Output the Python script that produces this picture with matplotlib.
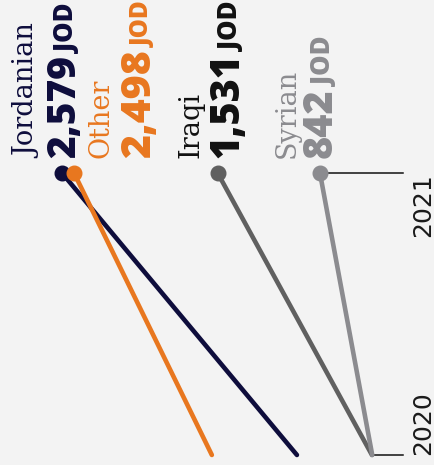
import matplotlib
matplotlib.use('Agg')
import matplotlib.pyplot as plt
from matplotlib import font_manager

# ---- data ----
groups = ['Jordanian', 'Other', 'Iraqi', 'Syrian']
values_2020 = [997, 1570, 492, 490]
values_2021 = [2579, 2498, 1531, 842]
value_labels = ['2,579', '2,498', '1,531', '842']
years = [2020, 2021]
year_labels = ['2020', '2021']
unit = 'JOD'

# ---- style / layout ----
line_colors = ['#0e0d3c', '#e8771f', '#606060', '#8b8b8f']
text_colors = ['#0e0d3c', '#e8771f', '#111111', '#8b8b8f']
name_dx = [-27, 34, -19, -25]      # px offset of name baseline from dot
value_dx = [13, 76, 21, 12]        # px offset of value baseline from dot
value_size = [28, 29.5, 28.5, 28.5]
unit_size = [18.5, 17.5, 18.5, 18.5]
BG = '#f3f3f3'

def _w(w):
    return font_manager.weight_dict.get(w, 400) if isinstance(w, str) else w

os_weights = [_w(f.weight) for f in font_manager.fontManager.ttflist if f.name == 'Open Sans']
heavy = 800 if any(w >= 800 for w in os_weights) else 'bold'

W, H, DPI = 435, 465, 100
fig = plt.figure(figsize=(W / DPI, H / DPI), dpi=DPI)
fig.patch.set_facecolor(BG)
ax = fig.add_axes([0, 0, 1, 1])
ax.set_facecolor(BG)
ax.axis('off')
ax.set_xlim(2996.6, 67.3)
ax.set_ylim(2019.9645, 2021.6135)

for i in range(len(groups)):
    ax.plot([values_2020[i], values_2021[i]], years, color=line_colors[i],
            lw=3.3, solid_capstyle='round', zorder=2 + i)
    ax.plot([values_2021[i]], [years[1]], 'o', ms=10.5, color=line_colors[i],
            zorder=2 + i)

inv = ax.transData.inverted()
tick_end = inv.transform((403, 0))[0]
for yr, vals in zip(years, [values_2020, values_2021]):
    ax.plot([min(vals), tick_end], [yr, yr], color='#111111', lw=1.1, zorder=1)

# year labels
for yr, lab, ha in zip(years, year_labels, ['left', 'right']):
    py = ax.transData.transform((0, yr))[1]
    fig.text(430 / W, py / H, lab, rotation=90, rotation_mode='anchor',
             ha=ha, va='baseline', fontsize=18, family='DejaVu Sans',
             color='#1a1a1a')

fig.canvas.draw()
renderer = fig.canvas.get_renderer()
start_y = H - 158
for i in range(len(groups)):
    dx = ax.transData.transform((values_2021[i], years[1]))[0]
    fig.text((dx + name_dx[i]) / W, start_y / H, groups[i], rotation=90,
             rotation_mode='anchor', ha='left', va='baseline', fontsize=19.5,
             family='DejaVu Serif', color=text_colors[i])
    t = fig.text((dx + value_dx[i]) / W, start_y / H, value_labels[i],
                 rotation=90, rotation_mode='anchor', ha='left', va='baseline',
                 fontsize=value_size[i], family='Open Sans', weight=heavy,
                 color=text_colors[i])
    bb = t.get_window_extent(renderer)
    fig.text((dx + value_dx[i]) / W, (bb.y1 + 2) / H, unit, rotation=90,
             rotation_mode='anchor', ha='left', va='baseline', fontsize=unit_size[i],
             family='Open Sans', weight=heavy, color=text_colors[i])

fig.savefig('out.png', dpi=DPI, facecolor=BG)
